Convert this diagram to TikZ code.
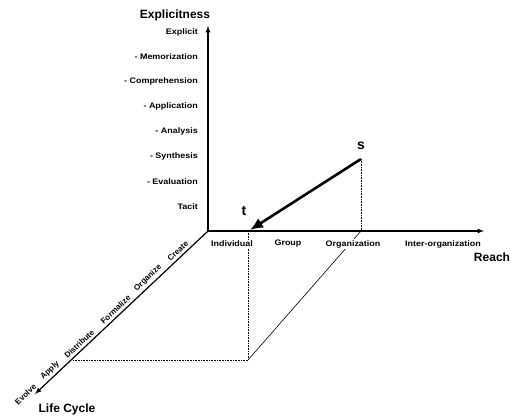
\documentclass[tikz,border=0pt]{standalone}
\usepackage{fontspec}
\setmainfont{Liberation Sans}
\newfontfamily\labfont{Liberation Sans}[FakeStretch=1.12]
\usetikzlibrary{arrows,arrows.meta}

\begin{document}
\begin{tikzpicture}[>=latex,x=1pt,y=-1pt]

\tikzset{
	lab/.style={font=\labfont\bfseries\fontsize{8}{9}\selectfont,inner sep=1pt},
	stagelab/.style={font=\bfseries\fontsize{8}{9}\selectfont,inner sep=1pt},
	axtitle/.style={font=\bfseries\fontsize{12}{13}\selectfont,inner sep=1pt},
	pt/.style={font=\bfseries\fontsize{14}{15}\selectfont,inner sep=1pt},
	guide/.style={line width=0.6pt,densely dotted}
}

\useasboundingbox (0,0) rectangle (511,418);

\coordinate (O) at (208,231);
\coordinate (S) at (361,159);
\coordinate (T) at (250,230);
\coordinate (Sfoot) at (361,231);
\coordinate (Tfoot) at (248,231);
\coordinate (Tlow) at (248,360);
\coordinate (Llow) at (73,360);

% projection of the move
\draw[guide] (S)--(Sfoot);
\draw[guide] (Tfoot)--(Tlow);
\draw[guide] (Llow)--(Tlow);
\draw[line width=0.6pt] (Tlow)--(Sfoot);

% axes
\draw[->,line width=1.2pt] (O)--(208,26) coordinate (Etip);
\draw[->,line width=1.2pt] (O)--(484,231) coordinate (Rtip);
\draw[->,line width=1.2pt] (O)--(35,394) coordinate (Ltip);

\foreach \stage/\p [count=\i] in {Evolve/1.03,Apply/0.885,Distribute/0.72,Formalize/0.51,Organize/0.32,Create/0.15}{
	\path (O)--(Ltip) node[pos=\p,sloped,above,stagelab,yshift=2pt] (stage\i) {\stage};
}

\node[axtitle] (explicitness) at (175,15) {Explicitness};
\node[axtitle] (reach) at (492,257) {Reach};
\node[axtitle] (lifecycle) at (67,409) {Life Cycle};

\node[lab,anchor=east] (explicit) at (199,32) {Explicit};
\foreach \name [count=\i] in {Memorization,Comprehension,Application,Analysis,Synthesis,Evaluation}{
	\node[lab,anchor=east] (lvl\i) at (199,{32+24.9*\i}) {- \name};
}
\node[lab,anchor=east] (tacit) at (199,207) {Tacit};

\node[lab,fill=white] (individual) at (232,244) {Individual};
\node[lab,fill=white] (group) at (288,244) {Group};
\node[lab,fill=white] (organization) at (353,244) {Organization};
\node[lab,fill=white] (interorg) at (443,244) {Inter-organization};

% the move from s to t
\draw[-{Latex[length=13pt,width=11pt]},line width=2.6pt] (S)--(T);
\node[pt] (s) at (361,146) {s};
\node[pt] (t) at (244,211) {t};

\end{tikzpicture}
\end{document}
